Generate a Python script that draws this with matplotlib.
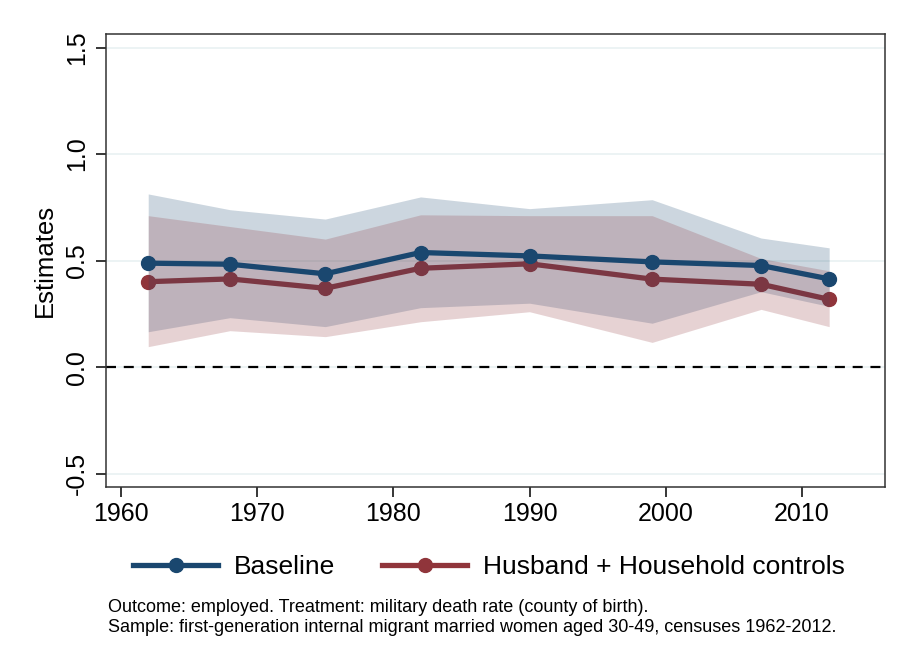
import matplotlib
matplotlib.use("Agg")
import matplotlib.pyplot as plt
from matplotlib.lines import Line2D

plt.rcParams['font.family'] = ['Liberation Sans', 'DejaVu Sans']

years = [1962, 1968, 1975, 1982, 1990, 1999, 2007, 2012]
base_est = [0.488, 0.483, 0.438, 0.538, 0.522, 0.494, 0.477, 0.414]
base_lo = [0.166, 0.232, 0.190, 0.279, 0.300, 0.206, 0.354, 0.285]
base_hi = [0.813, 0.739, 0.695, 0.799, 0.744, 0.786, 0.606, 0.560]
ctrl_est = [0.401, 0.414, 0.370, 0.464, 0.485, 0.413, 0.389, 0.318]
ctrl_lo = [0.096, 0.171, 0.143, 0.213, 0.260, 0.116, 0.271, 0.190]
ctrl_hi = [0.711, 0.660, 0.601, 0.715, 0.711, 0.711, 0.510, 0.452]

series_labels = ["Baseline", "Husband + Household controls"]
xticks = [1960, 1970, 1980, 1990, 2000, 2010]
yticks = [-0.5, 0.0, 0.5, 1.0, 1.5]
ylabel = "Estimates"
note_lines = ["Outcome: employed. Treatment: military death rate (county of birth).",
              "Sample: first-generation internal migrant married women aged 30-49, censuses 1962-2012."]

navy = '#1a476f'
maroon = '#90353b'

fig = plt.figure(figsize=(8.99, 6.61), dpi=100)
ax = fig.add_axes([106/899, 1-487/661, (885-106)/899, (487-34)/661])

for y in yticks:
    ax.axhline(y, color='#eaf2f3', lw=1.3, zorder=0)
ax.axhline(0, color='black', lw=1.6, ls=(0, (4.5, 3.5)), zorder=1)

ax.plot(years, ctrl_est, color=maroon, lw=3.8, marker='o', ms=10, zorder=1.5)
ax.fill_between(years, base_lo, base_hi, color=navy, alpha=0.22, lw=0, zorder=2)
ax.fill_between(years, ctrl_lo, ctrl_hi, color=maroon, alpha=0.22, lw=0, zorder=2)
ax.plot(years, base_est, color=navy, lw=3.8, marker='o', ms=10, zorder=4)

ax.set_xlim(1958.9, 2016.1)
ax.set_ylim(-0.563, 1.564)
ax.set_xticks(xticks)
ax.set_yticks(yticks)
ax.set_yticklabels([f"{v:.1f}" for v in yticks], rotation=90, va='center')
ax.tick_params(axis='both', direction='out', length=7, width=1.1, labelsize=18, colors='black')
ax.tick_params(axis='y', pad=5)
ax.set_ylabel(ylabel, fontsize=18.5, labelpad=6)
for s in ax.spines.values():
    s.set_linewidth(1.1)
    s.set_color('#333333')

handles = [Line2D([], [], color=navy, lw=3.8, marker='o', ms=10),
           Line2D([], [], color=maroon, lw=3.8, marker='o', ms=10)]
fig.legend(handles, series_labels, loc='center', bbox_to_anchor=(489/899, 1-567/661),
           ncol=2, frameon=False, fontsize=19, handlelength=3.2, columnspacing=1.8,
           handletextpad=0.6)

fig.text(108/899, 1-608/661, note_lines[0], fontsize=13, va='center', ha='left')
fig.text(108/899, 1-627/661, note_lines[1], fontsize=13, va='center', ha='left')

fig.savefig('out.png', dpi=100)
